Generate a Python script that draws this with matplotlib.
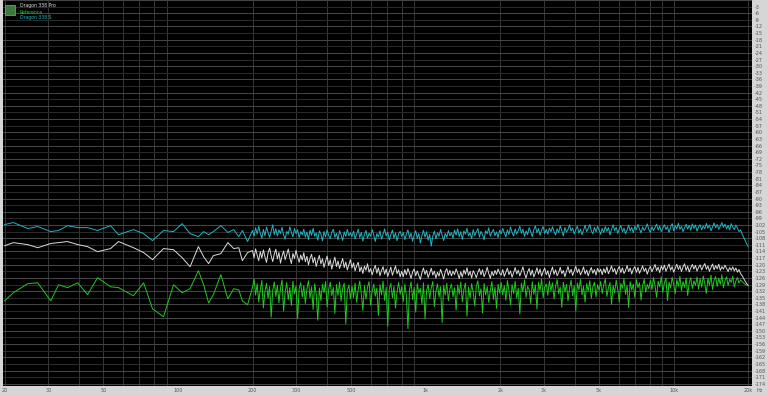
import numpy as np
import matplotlib
matplotlib.use('Agg')
import matplotlib.pyplot as plt
from matplotlib.ticker import FixedLocator, NullFormatter

# low band, hand (Hz)
freq_low = [20, 21.7, 24.8, 27.2, 30.7, 33.0, 35.9, 39.4, 43.2, 47.4, 53.5, 57.6, 66.2, 72.7, 79,
            87.5, 96, 104, 112, 121, 127, 133, 139, 149, 159, 168, 176, 182, 191]

cyan_low = [-101.8, -100.9, -103.6, -102.7, -105.0, -104.5, -102.3, -103.2, -103.2, -104.5, -102.3,
            -106.4, -104.1, -105.9, -109.1, -104.5, -105.0, -101.4, -105.9, -107.3, -105.0, -106.4,
            -105.0, -102.3, -105.4, -104.1, -107.3, -104.5, -109.5]
white_low = [-111.4, -110.0, -110.9, -112.3, -110.4, -110.0, -109.5, -110.9, -111.8, -114.1, -112.7,
             -109.5, -112.3, -114.5, -117.7, -112.7, -113.2, -116.8, -120.9, -111.8, -116.4, -119.5,
             -115.9, -115.0, -110.0, -112.7, -112.3, -118.2, -114.5]
green_low = [-136.4, -132.7, -128.6, -128.2, -136.4, -129.1, -130.4, -128.2, -133.6, -125.9, -130.0,
             -130.4, -134.1, -128.2, -140.0, -143.6, -129.1, -132.7, -130.9, -122.7, -129.1, -137.3,
             -133.6, -124.5, -135.5, -130.9, -131.4, -136.4, -138.2]

# dense band 200 Hz .. 20 kHz (log spaced bins)
cyan_high = [
    -104.5, -107.0, -103.2, -106.1, -102.6, -105.8, -108.0, -104.0, -106.9, -102.9, -105.5, -107.6, -104.8, -101.9, -106.3, -103.7,
    -107.0, -104.2, -105.9, -103.0, -106.5, -108.4, -104.9, -106.2, -102.8, -105.4, -107.3, -103.6, -106.0, -104.1, -107.8, -105.0,
    -106.4, -103.9, -107.5, -105.2, -108.6, -104.4, -106.7, -103.5, -107.1, -105.6, -108.9, -104.7, -106.1, -109.2, -105.0, -107.4,
    -104.2, -106.8, -108.1, -105.3, -103.9, -107.6, -105.8, -108.7, -104.6, -106.5, -109.0, -105.1, -107.2, -104.0, -106.9, -105.5,
    -107.3, -104.8, -108.2, -106.0, -103.9, -107.7, -105.4, -109.3, -106.3, -104.5, -108.0, -105.7, -107.1, -104.1, -106.6, -109.5,
    -105.9, -107.4, -104.7, -108.4, -106.2, -103.8, -107.0, -105.2, -108.8, -106.4, -104.3, -107.9, -105.6, -109.1, -106.0, -104.9,
    -107.2, -105.3, -108.6, -106.1, -104.2, -107.8, -105.7, -109.4, -106.5, -104.6, -108.1, -105.9, -110.2, -106.8, -104.4, -107.5,
    -105.1, -108.9, -106.2, -111.6, -107.0, -104.8, -108.3, -105.5, -107.1, -104.0, -106.7, -109.0, -105.8, -107.6, -104.5, -106.9,
    -105.4, -108.0, -104.3, -106.6, -103.8, -107.3, -105.0, -108.5, -104.7, -106.2, -103.5, -107.0, -105.6, -108.2, -104.1, -106.8,
    -105.2, -103.6, -107.5, -104.9, -106.4, -108.7, -104.6, -106.0, -103.3, -107.1, -105.3, -104.0, -106.9, -105.1, -107.7, -104.4,
    -106.0, -103.5, -105.7, -107.4, -104.2, -106.3, -102.9, -105.4, -107.0, -103.8, -106.1, -104.5, -102.6, -105.8, -103.9, -107.1,
    -104.7, -106.4, -103.2, -105.0, -107.3, -104.1, -102.4, -105.6, -103.6, -106.7, -104.3, -102.7, -105.9, -104.0, -106.2, -103.4,
    -105.1, -102.8, -104.9, -106.6, -103.7, -105.5, -102.3, -104.6, -106.9, -103.1, -105.3, -104.0, -101.9, -104.8, -103.3, -106.1,
    -104.2, -102.5, -105.7, -103.8, -106.4, -104.4, -102.1, -105.0, -103.5, -101.8, -104.7, -106.0, -103.0, -105.2, -102.6, -104.3,
    -106.2, -103.6, -105.4, -102.7, -104.9, -103.2, -106.5, -104.1, -101.9, -104.6, -103.0, -105.8, -103.7, -102.2, -105.1, -103.4,
    -106.0, -104.3, -102.0, -104.8, -103.1, -105.5, -102.6, -104.2, -101.7, -103.9, -105.6, -102.9, -104.5, -103.3, -101.5, -104.0,
    -105.3, -102.8, -104.6, -103.1, -101.6, -104.3, -102.5, -105.0, -103.4, -101.9, -104.1, -102.7, -105.4, -103.0, -101.4, -104.7,
    -102.3, -103.8, -101.2, -104.0, -102.6, -105.1, -103.2, -101.7, -103.9, -102.1, -104.4, -101.5, -103.6, -102.0, -104.8, -102.9,
    -101.9, -104.2, -102.4, -103.7, -101.3, -103.5, -102.0, -104.6, -102.8, -101.1, -103.3, -101.8, -104.0, -102.5, -100.9, -103.1,
    -101.6, -103.8, -102.2, -104.3, -101.4, -102.9, -104.1, -102.0, -103.4, -105.0, -104.2, -106.0, -107.5, -109.0, -110.6, -111.8]
white_high = [
    -113.6, -116.9, -112.8, -115.7, -118.2, -114.1, -117.0, -113.3, -116.4, -119.0, -114.7, -112.5, -116.0, -118.6, -115.2, -113.0,
    -117.4, -114.5, -119.3, -116.1, -113.8, -117.7, -115.4, -112.9, -116.8, -119.5, -114.9, -117.2, -113.5, -116.5, -118.9, -115.6,
    -117.9, -114.6, -118.7, -116.2, -120.1, -117.1, -115.3, -119.2, -116.7, -120.8, -118.0, -115.8, -119.6, -117.3, -121.2, -118.5,
    -116.1, -120.4, -117.8, -122.0, -119.0, -116.6, -120.9, -118.3, -121.7, -119.4, -117.2, -121.3, -118.8, -122.4, -120.0, -117.7,
    -121.5, -119.2, -122.8, -120.4, -118.9, -123.1, -121.0, -124.0, -120.7, -122.5, -119.6, -123.4, -121.8, -124.6, -122.1, -120.3,
    -123.9, -121.4, -125.0, -122.6, -120.9, -124.3, -122.0, -125.3, -123.2, -121.1, -124.8, -122.7, -120.6, -124.1, -122.3, -125.5,
    -123.0, -125.4, -122.2, -124.6, -121.7, -124.0, -126.2, -123.3, -121.9, -125.0, -122.8, -124.9, -126.7, -123.6, -121.5, -124.4,
    -122.5, -125.8, -123.9, -121.6, -124.7, -122.9, -126.0, -123.4, -125.2, -122.1, -124.2, -126.5, -123.1, -121.8, -124.8, -122.6,
    -125.1, -122.9, -124.5, -121.9, -123.8, -126.3, -123.2, -125.6, -122.4, -124.3, -121.4, -124.9, -123.0, -126.0, -122.7, -124.1,
    -125.9, -123.5, -121.8, -124.6, -122.3, -125.4, -123.7, -121.2, -124.0, -126.2, -123.1, -125.0, -122.6, -124.4, -121.9, -123.9,
    -124.7, -122.2, -125.3, -123.4, -121.6, -124.5, -122.8, -125.7, -123.6, -121.3, -124.2, -122.5, -125.1, -123.0, -121.0, -124.0,
    -126.1, -123.3, -121.7, -124.8, -122.4, -125.5, -123.8, -121.4, -124.3, -122.0, -125.2, -123.1, -121.5, -124.6, -122.7, -125.8,
    -123.2, -121.1, -124.4, -122.3, -125.0, -123.5, -121.2, -124.1, -122.6, -125.4, -123.0, -120.9, -123.8, -122.1, -124.9, -122.8,
    -120.7, -123.6, -121.9, -124.6, -123.1, -121.0, -124.2, -122.4, -125.1, -122.9, -121.3, -123.9, -122.2, -124.7, -121.6, -123.4,
    -122.0, -124.5, -121.8, -123.7, -121.0, -124.1, -122.5, -120.6, -123.3, -121.7, -124.4, -122.2, -120.8, -123.6, -121.4, -124.0,
    -122.7, -120.4, -123.1, -121.5, -124.2, -122.0, -120.9, -123.5, -121.2, -123.9, -122.3, -120.5, -123.0, -121.6, -124.3, -122.1,
    -120.8, -123.2, -121.5, -119.9, -122.7, -121.1, -123.6, -120.6, -122.4, -120.2, -123.0, -121.3, -119.7, -122.5, -120.9, -123.4,
    -121.6, -119.8, -122.2, -120.5, -123.1, -121.0, -119.6, -122.6, -120.7, -123.3, -121.4, -119.9, -122.0, -120.3, -122.9, -121.2,
    -120.1, -122.4, -120.8, -119.5, -122.1, -120.6, -123.0, -121.2, -119.7, -122.3, -120.4, -121.9, -119.8, -122.6, -120.9, -122.0,
    -120.2, -121.7, -123.1, -121.3, -122.5, -121.0, -122.8, -121.5, -123.4, -122.2, -124.0, -125.0, -126.3, -127.5, -128.6, -129.5]
green_high = [
    -130.2, -126.5, -133.8, -128.7, -136.9, -131.4, -127.2, -139.6, -132.0, -128.5, -135.2, -129.9, -143.8, -131.6, -127.8, -134.4,
    -129.3, -137.2, -130.8, -126.9, -141.0, -132.3, -128.1, -135.9, -130.4, -138.5, -127.5, -133.1, -129.6, -144.5, -131.0, -128.2,
    -134.7, -129.4, -137.6, -130.9, -127.3, -135.1, -130.0, -140.3, -128.6, -133.5, -145.2, -130.5, -136.3, -128.9, -132.7, -127.6,
    -139.2, -131.2, -128.0, -134.0, -130.3, -142.1, -129.0, -133.9, -127.9, -136.5, -130.7, -128.4, -146.8, -131.8, -129.2, -135.5,
    -129.7, -134.9, -128.3, -137.0, -131.3, -127.4, -133.2, -140.8, -129.5, -135.6, -130.1, -127.7, -138.4, -131.9, -128.8, -134.3,
    -130.6, -143.0, -129.1, -133.6, -127.5, -136.2, -130.2, -147.9, -131.1, -128.5, -135.0, -129.8, -139.7, -132.2, -128.1, -133.4,
    -130.0, -136.7, -128.9, -134.1, -149.0, -131.5, -127.8, -135.8, -130.3, -141.5, -128.6, -133.0, -130.8, -137.9, -128.2, -144.6,
    -131.7, -129.0, -135.4, -130.5, -127.6, -139.0, -132.1, -128.7, -134.7, -130.0, -146.2, -129.3, -133.8, -128.4, -136.4, -131.0,
    -128.8, -134.5, -130.4, -140.6, -129.1, -133.3, -127.9, -136.8, -131.2, -128.3, -143.4, -130.1, -135.1, -128.6, -132.6, -138.7,
    -129.7, -127.3, -134.2, -130.9, -141.9, -128.5, -133.7, -129.9, -137.1, -131.6, -127.7, -135.7, -130.2, -139.8, -128.9, -132.9,
    -128.1, -133.6, -129.5, -136.1, -127.2, -131.8, -138.3, -129.0, -133.1, -127.5, -135.2, -130.6, -142.3, -128.4, -132.2, -126.9,
    -134.8, -129.8, -131.3, -137.6, -127.8, -133.4, -129.2, -140.1, -128.0, -131.7, -126.6, -135.0, -130.3, -128.7, -133.9, -127.4,
    -131.9, -128.2, -135.5, -129.6, -126.8, -133.2, -130.1, -139.3, -127.9, -132.5, -128.9, -136.4, -130.4, -127.1, -134.1, -129.4,
    -141.0, -128.3, -131.4, -126.7, -133.7, -129.7, -137.0, -128.6, -132.0, -127.3, -135.3, -130.0, -128.0, -134.6, -129.1, -131.6,
    -127.6, -133.0, -129.0, -126.5, -134.4, -130.5, -128.1, -138.0, -129.3, -132.8, -127.0, -131.2, -136.9, -128.5, -130.7, -126.3,
    -133.5, -129.4, -139.4, -127.7, -131.5, -128.8, -134.9, -126.8, -130.4, -128.2, -136.0, -129.5, -126.6, -132.4, -128.9, -130.9,
    -127.1, -131.3, -125.8, -129.6, -134.8, -127.5, -130.1, -125.5, -132.5, -128.3, -126.2, -136.3, -127.9, -130.6, -125.7, -129.0,
    -133.1, -126.8, -129.8, -125.3, -131.7, -127.7, -130.3, -126.0, -134.0, -128.1, -125.9, -130.8, -127.3, -129.4, -125.6, -131.0,
    -126.4, -130.2, -125.1, -128.6, -133.0, -126.2, -129.3, -124.8, -131.2, -127.0, -125.4, -129.9, -126.1, -128.9, -124.6, -130.5,
    -127.2, -125.5, -129.5, -126.6, -128.0, -125.2, -130.1, -127.4, -125.8, -128.4, -126.9, -127.6, -128.3, -128.9, -129.3, -129.6]

legend_names = ['Dragon 338 Pro', 'Reference', 'Dragon 338 S']
xtick_vals = [20, 30, 50, 100, 200, 300, 500, 1000, 2000, 3000, 5000, 10000, 20000]
xtick_text = ['20', '30', '50', '100', '200', '300', '500', '1k', '2k', '3k', '5k', '10k', '20k']


def full_series(low, high):
    f = np.concatenate([freq_low, np.geomspace(200, 20000, len(high))])
    return f, np.concatenate([low, high])


fig = plt.figure(figsize=(7.68, 3.96), dpi=100, facecolor='#d6d6d6')
ax = fig.add_axes([3 / 768, 10 / 396, 749 / 768, 386 / 396])
ax.set_facecolor('black')
ax.set_xscale('log')
ax.set_xlim(19.7, 20700)
ax.set_ylim(-175, 0)

# grid like the analyser screen
minor_x = [f for d in (10, 100, 1000) for f in np.arange(2, 10) * d] + [10000, 20000]
for f in minor_x:
    ax.axvline(f, color='#363636', lw=0.7, zorder=1)
for k, y in enumerate(np.arange(0, -176, -3)):
    ax.axhline(y, color='#484848' if k % 2 == 0 else '#2c2c2c', lw=0.7, zorder=1)

ax.plot(*full_series(white_low, white_high), color='#dcdcdc', lw=0.7, zorder=3)
ax.plot(*full_series(green_low, green_high), color='#22c822', lw=0.7, zorder=4)
ax.plot(*full_series(cyan_low, cyan_high), color='#22b4c4', lw=0.7, zorder=5)

ax.xaxis.set_major_locator(FixedLocator(xtick_vals))
ax.set_xticklabels(xtick_text)
ax.xaxis.set_minor_formatter(NullFormatter())
ax.tick_params(axis='x', which='both', length=0, labelsize=3.5, pad=1.5, colors='#555555')
ax.yaxis.tick_right()
yt = np.arange(-3, -175, -3)
ax.set_yticks(yt)
ax.set_yticklabels([str(v) for v in yt])
ax.tick_params(axis='y', length=0, labelsize=3.5, pad=2, colors='#555555')
for s in ax.spines.values():
    s.set_visible(False)
fig.text(760 / 768, 1 - 390 / 396, 'Hz', fontsize=3.5, color='#555555', ha='center', va='center')

# legend block top-left
fig.patches.append(plt.Rectangle((5 / 768, 1 - 15 / 396), 10 / 768, 10 / 396, transform=fig.transFigure,
                                 facecolor='#3a7a3a', edgecolor='#8a8a8a', lw=0.6))
for i, (name, c) in enumerate(zip(legend_names, ['#dcdcdc', '#22c822', '#22b4c4'])):
    fig.text(20 / 768, 1 - (6 + 6 * i) / 396, name, fontsize=3.3, color=c, va='center')

fig.savefig('out.png', dpi=100, facecolor=fig.get_facecolor())
